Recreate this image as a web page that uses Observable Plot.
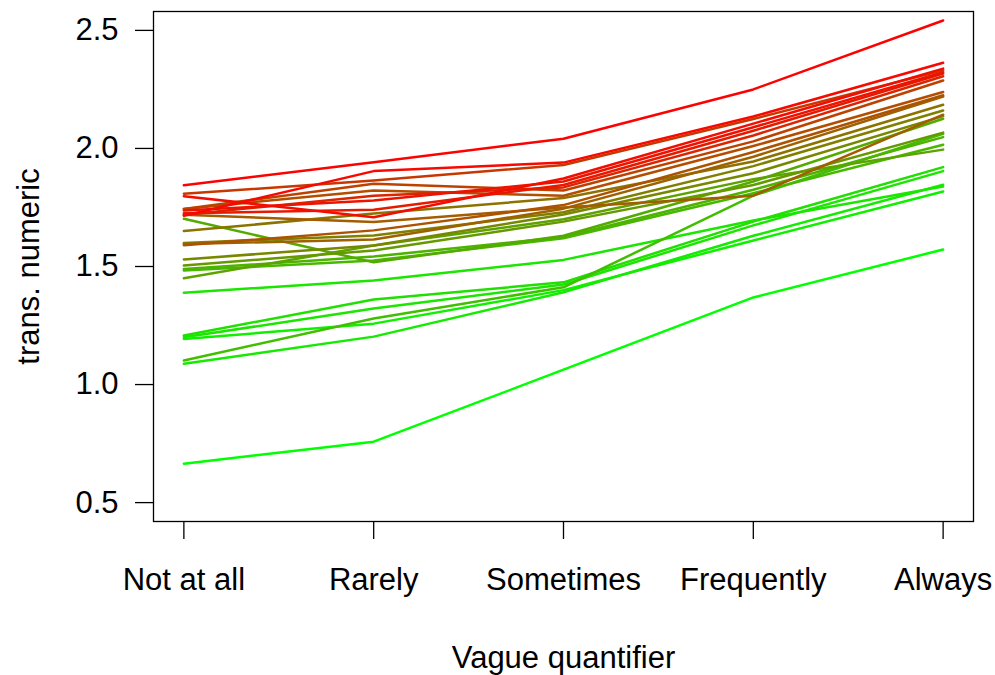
<!DOCTYPE html>
<html>
<head>
<meta charset="utf-8">
<script src="https://cdn.jsdelivr.net/npm/d3@7"></script>
<script src="https://cdn.jsdelivr.net/npm/@observablehq/plot@0.6"></script>
<style>
  html, body { margin: 0; padding: 0; background: white; }
</style>
</head>
<body>
<div id="chart"></div>
<script>
const categories = ["Not at all", "Rarely", "Sometimes", "Frequently", "Always"];
const yTicks = [0.5, 1.0, 1.5, 2.0, 2.5];

// one entry per respondent line
const notAtAll   = [1.844, 1.715, 1.798, 1.808, 1.737, 1.726, 1.719, 1.744, 1.744, 1.590, 1.595, 1.650, 1.719, 1.600, 1.530, 1.702, 1.504, 1.489, 1.483, 1.450, 1.102, 1.389, 1.208, 1.200, 1.193, 1.088, 0.665];
const rarely     = [1.942, 1.904, 1.709, 1.864, 1.780, 1.740, 1.800, 1.850, 1.822, 1.653, 1.614, 1.724, 1.688, 1.631, 1.589, 1.518, 1.568, 1.542, 1.525, 1.589, 1.280, 1.441, 1.360, 1.322, 1.258, 1.203, 0.758];
const sometimes  = [2.041, 1.940, 1.873, 1.930, 1.860, 1.845, 1.835, 1.822, 1.800, 1.760, 1.745, 1.790, 1.750, 1.730, 1.720, 1.630, 1.690, 1.625, 1.620, 1.700, 1.412, 1.528, 1.433, 1.424, 1.400, 1.391, 1.063];
const frequently = [2.250, 2.135, 2.105, 2.125, 2.090, 2.075, 2.055, 2.030, 2.010, 1.985, 1.965, 1.945, 1.800, 1.925, 1.895, 1.860, 1.845, 1.825, 1.810, 1.870, 1.800, 1.695, 1.690, 1.674, 1.610, 1.630, 1.369];
const always     = [2.542, 2.363, 2.338, 2.331, 2.323, 2.317, 2.306, 2.288, 2.239, 2.225, 2.220, 2.185, 2.143, 2.161, 2.137, 2.126, 2.067, 2.048, 2.016, 1.995, 2.062, 1.839, 1.921, 1.904, 1.818, 1.846, 1.572];
// position on the green -> red colour ramp
const redness    = [1.00, 0.97, 0.95, 0.78, 0.92, 0.90, 0.86, 0.74, 0.70, 0.68, 0.62, 0.55, 0.64, 0.50, 0.47, 0.33, 0.40, 0.30, 0.28, 0.36, 0.25, 0.10, 0.12, 0.10, 0.06, 0.08, 0.00];

const columns = [notAtAll, rarely, sometimes, frequently, always];
const order = d3.range(redness.length).sort((a, b) => redness[a] - redness[b]);
const rows = [];
for (const i of order) {
  columns.forEach((col, j) => rows.push({id: i, x: j + 1, y: col[i], r: redness[i]}));
}

const chart = Plot.plot({
  width: 995,
  height: 675,
  marginLeft: 153,
  marginRight: 22,
  marginTop: 11,
  marginBottom: 154,
  style: {fontFamily: "'Liberation Sans', Arial, Helvetica, sans-serif", fontSize: "31px", background: "white", color: "black"},
  x: {type: "linear", domain: [0.84, 5.16]},
  y: {domain: [0.42, 2.58]},
  color: {type: "linear", domain: [0, 1], range: ["#00FF00", "#FF0000"], interpolate: "rgb"},
  marks: [
    Plot.frame({stroke: "black", strokeWidth: 1.3}),
    Plot.axisX({ticks: [1, 2, 3, 4, 5], tickFormat: d => categories[d - 1], tickSize: 18, tickPadding: 28, fontSize: 31, label: null, strokeWidth: 1.3}),
    Plot.axisY({ticks: yTicks, tickFormat: d3.format(".1f"), tickSize: 18, tickPadding: 17, fontSize: 31, label: null, strokeWidth: 1.3}),
    Plot.line(rows, {x: "x", y: "y", z: "id", stroke: "r", strokeWidth: 2.5, curve: "linear"}),
    Plot.text(["Vague quantifier"], {frameAnchor: "bottom", dy: 137, fontSize: 31, lineAnchor: "middle", textAnchor: "middle"}),
    Plot.text(["trans. numeric"], {frameAnchor: "left", dx: -124, rotate: -90, fontSize: 31, lineAnchor: "middle", textAnchor: "middle"})
  ]
});
document.getElementById("chart").appendChild(chart);
</script>
</body>
</html>
